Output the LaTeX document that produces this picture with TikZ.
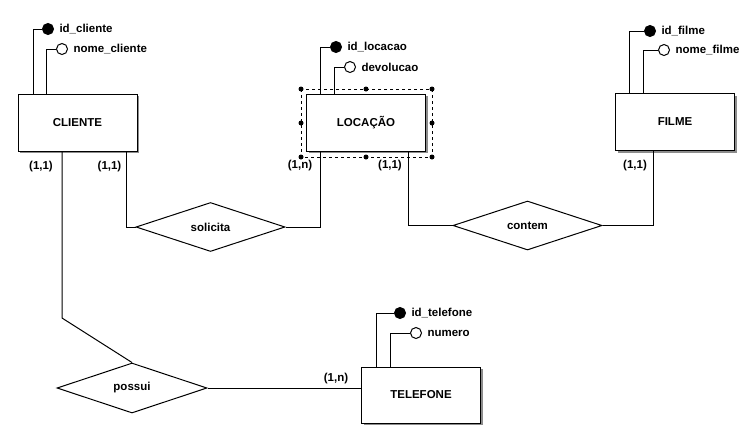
\documentclass[tikz,border=0pt]{standalone}
\usepackage{fontspec}
\setmainfont{Liberation Sans}
\usetikzlibrary{shapes.geometric,shadows}
\tikzset{
  every path/.style={line width=1pt},
  txt/.style={font=\fontsize{11.5}{13}\bfseries\selectfont},
  entity/.style={txt, draw, fill=white, minimum width=119pt, minimum height=57pt, inner sep=0pt,
    drop shadow={shadow xshift=2pt, shadow yshift=-2pt, fill=black!45, opacity=1}},
  rel/.style={txt, draw, diamond, fill=white, minimum width=149pt, minimum height=49pt, inner sep=0pt},
  keyattr/.style={circle, draw, fill=black, minimum size=11pt, inner sep=0pt},
  plainattr/.style={circle, draw, fill=white, minimum size=11pt, inner sep=0pt},
  lbl/.style={txt, anchor=west, inner sep=0pt},
  card/.style={txt, inner sep=0pt},
  handle/.style={circle, fill=black, minimum size=5pt, inner sep=0pt},
}
\begin{document}
\begin{tikzpicture}[x=1pt,y=-1pt]
\useasboundingbox (0,0) rectangle (752,429);
% entities
\node[entity] (cliente) at (77.5,122.5) {CLIENTE};
\node[entity] (locacao) at (366,122.5) {LOCAÇÃO};
\node[entity] (filme) at (675,122) {FILME};
\node[entity, minimum height=56pt] (telefone) at (421,395) {TELEFONE};
% selection frame
\coordinate (s1) at (301,89);
\coordinate (s2) at (432,157);
\draw[dashed, line width=0.8pt] (s1) rectangle (s2);
\foreach \p/\q in {301/89,366/89,432/89,301/123,432/123,301/157,366/157,432/157}
  \node[handle] at (\p,\q) {};
% relationships
\node[rel] (solicita) at (210.5,227) {solicita};
\node[rel] (contem) at (527.5,225.5) {contem};
\node[rel, minimum width=150pt, minimum height=50pt] (possui) at (132,388) {possui};
% attributes CLIENTE
\node[keyattr] (k1) at (48,29) {};
\node[lbl] (tk1) at ([xshift=5pt]k1.east) {id\_cliente};
\node[plainattr] (a1) at (62,49) {};
\node[lbl] (ta1) at ([xshift=5pt]a1.east) {nome\_cliente};
\draw (k1.west) -| (cliente.north -| 33,0);
\draw (a1.west) -| (cliente.north -| 46,0);
% attributes LOCACAO
\node[keyattr] (k2) at (336,47) {};
\node[lbl] (tk2) at ([xshift=5pt]k2.east) {id\_locacao};
\node[plainattr] (a2) at (350,67) {};
\node[lbl] (ta2) at ([xshift=5pt]a2.east) {devolucao};
\draw (k2.west) -| (locacao.north -| 320,0);
\draw (a2.west) -| (locacao.north -| 334,0);
% attributes FILME
\node[keyattr] (k3) at (650,31) {};
\node[lbl] (tk3) at ([xshift=5pt]k3.east) {id\_filme};
\node[plainattr] (a3) at (664,50) {};
\node[lbl] (ta3) at ([xshift=5pt]a3.east) {nome\_filme};
\draw (k3.west) -| (filme.north -| 629,0);
\draw (a3.west) -| (filme.north -| 643,0);
% attributes TELEFONE
\node[keyattr] (k4) at (400,313) {};
\node[lbl] (tk4) at ([xshift=5pt]k4.east) {id\_telefone};
\node[plainattr] (a4) at (416,333) {};
\node[lbl] (ta4) at ([xshift=5pt]a4.east) {numero};
\draw (k4.west) -| (telefone.north -| 376,0);
\draw (a4.west) -| (telefone.north -| 390,0);
% connectors
\draw (cliente.south -| 126,0) |- (solicita.west);
\draw (solicita.east) -| (locacao.south -| 320,0);
\draw (locacao.south -| 408,0) |- (contem.west);
\draw (contem.east) -| (filme.south -| 653,0);
\coordinate (bend) at (62,318);
\draw (cliente.south -| bend) -- (bend) -- (possui.north);
\draw (possui.east) -- (possui.east -| telefone.west);
% cardinalities
\node[card] (c1) at (41,167) {(1,1)};
\node[card] (c2) at (109.5,167) {(1,1)};
\node[card] (c3) at (300,166) {(1,n)};
\node[card] (c4) at (390,166) {(1,1)};
\node[card] (c5) at (635,166) {(1,1)};
\node[card] (c6) at (336,379) {(1,n)};
\end{tikzpicture}
\end{document}
